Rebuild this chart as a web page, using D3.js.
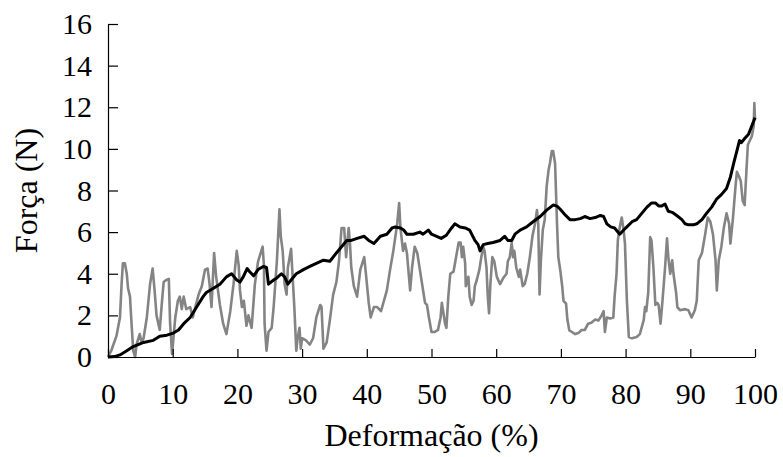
<!DOCTYPE html>
<html>
<head>
<meta charset="utf-8">
<script src="https://cdn.jsdelivr.net/npm/d3@7"></script>
<style>
  html, body { margin: 0; padding: 0; background: #fff; }
  svg { display: block; }
  text { font-family: "Liberation Serif", "Times New Roman", serif; fill: #000; }
</style>
</head>
<body>
<svg id="chart" width="783" height="457"></svg>
<script>
// Deformation (%) vs force (N): raw (grey) and averaged (black) curves
const xTicks = [0, 10, 20, 30, 40, 50, 60, 70, 80, 90, 100];
const yTicks = [0, 2, 4, 6, 8, 10, 12, 14, 16];

const grayX = [0, 0.5, 1.3, 1.85, 2.1, 2.3, 2.6, 2.9, 3.1, 3.4, 3.6, 3.9, 4.2, 4.4, 4.9, 5.2, 5.5, 6.0, 6.5, 6.9, 7.2, 7.5, 8.0, 8.3, 8.6, 9.0, 9.4, 9.6, 9.9,
  10.4, 10.8, 11.1, 11.4, 11.7, 12.1, 12.7, 13.1, 13.5, 14.0, 14.5, 15.0, 15.4, 15.7, 16.0, 16.4, 16.7, 17.3, 17.8, 18.3, 18.9, 19.4, 19.9, 20.2, 20.4, 20.7, 21.0, 21.4, 21.7, 22.2, 22.7, 23.2, 23.9, 24.1, 24.2, 24.5, 24.8, 25.3,
  25.6, 26.1, 26.5, 26.7, 27.0, 27.3, 27.6, 27.8, 28.3, 28.6, 28.8, 29.1, 29.3, 29.6, 29.8, 30.0, 30.6, 31.2, 31.7, 32.2, 32.8, 33.0, 33.3, 33.8, 34.3, 34.8, 35.3, 35.7, 36.1, 36.5, 36.8, 37.2, 37.4, 37.6, 38.0, 38.5, 39.0, 39.6, 39.8,
  40.3, 40.6, 41.1, 41.6, 42.2, 43.1, 43.6, 44.1, 44.7, 45.0, 45.2, 45.6, 45.9, 46.2, 46.7, 47.0, 47.4, 47.8, 48.2, 48.7, 49.0, 49.3, 49.6, 50.0, 50.5, 51.0, 51.4, 51.6, 51.8, 52.1, 52.3, 52.6, 52.9, 53.4, 53.8, 54.2, 54.5, 54.7, 54.9,
  55.2, 55.3, 55.7, 55.9, 56.2, 56.5, 56.7, 57.0, 57.4, 57.7, 58.0, 58.2, 58.5, 58.7, 58.9, 59.1, 59.4, 59.7, 60.1, 60.6, 61.1, 61.6, 61.8, 62.1, 62.4, 62.6, 62.8, 63.1, 63.5, 63.7, 64.1, 64.4, 64.8, 65.2, 65.6, 66.0, 66.3, 66.5,
  66.7, 66.9, 67.2, 67.5, 67.8, 68.1, 68.3, 68.6, 68.8, 69.1, 69.4, 69.6, 69.9, 70.2, 70.4, 70.8, 71.0, 71.3, 71.7, 72.2, 72.7, 73.2, 73.7, 74.2, 74.7, 75.3, 75.8, 76.3, 76.6, 76.8, 77.1, 77.6, 78.1, 78.3, 78.6, 78.8, 79.1, 79.4,
  79.7, 79.9, 80.2, 80.5, 81.0, 81.7, 82.2, 82.8, 83.0, 83.2, 83.5, 83.8, 84.0, 84.3, 84.6, 84.9, 85.1, 85.3, 85.4, 85.7, 86.1, 86.4, 86.6, 86.9, 87.2, 87.4, 87.8, 88.0, 88.4, 89.2, 89.7, 90.2, 90.7, 91.0, 91.3, 91.8, 92.3, 92.7,
  93.1, 93.5, 93.9, 94.1, 94.4, 94.8, 95.2, 95.6, 96.0, 96.2, 96.6, 97.0, 97.2, 97.5, 97.8, 98.1, 98.4, 98.7, 98.9, 99.2, 99.5, 99.8, 99.9, 100];
const grayY = [0, 0.3, 1.0, 1.9, 3.5, 4.5, 4.5, 4.0, 3.3, 2.9, 1.8, 0.3, 0.0, 0.6, 1.1, 0.7, 0.9, 1.9, 3.5, 4.25, 3.2, 2.0, 1.3, 2.5, 3.6, 3.7, 3.75, 1.6, 0.15,
  1.9, 2.7, 2.9, 2.3, 2.9, 2.3, 2.4, 1.9, 2.4, 3.0, 3.4, 4.2, 4.25, 3.5, 2.4, 5.0, 3.9, 2.5, 1.6, 1.1, 2.2, 3.5, 5.1, 4.4, 3.2, 2.4, 2.7, 1.5, 2.0, 1.4, 3.5, 4.6, 5.3, 4.4, 1.6, 0.3, 1.2, 1.4,
  2.4, 4.6, 7.1, 5.8, 5.1, 3.5, 3.0, 4.3, 5.2, 3.5, 2.4, 0.3, 0.9, 1.4, 0.4, 0.9, 0.8, 0.6, 0.9, 1.9, 2.5, 2.4, 0.4, 0.7, 1.8, 3.0, 3.6, 4.6, 6.2, 6.2, 4.8, 6.2, 5.45, 4.3, 3.4, 2.9, 4.2, 4.8, 4.2,
  2.6, 1.9, 2.4, 2.4, 2.2, 3.2, 4.2, 5.1, 6.4, 7.4, 6.2, 5.1, 5.45, 5.0, 3.2, 4.3, 5.3, 5.0, 4.2, 3.2, 2.6, 2.5, 1.9, 1.2, 1.2, 1.3, 1.9, 2.6, 2.2, 1.6, 1.4, 2.9, 4.0, 4.1, 4.8, 5.5, 5.5, 4.8, 5.3,
  4.5, 3.4, 3.85, 2.9, 2.5, 2.7, 3.4, 3.7, 4.2, 4.8, 5.3, 5.1, 4.3, 2.9, 2.1, 3.5, 4.8, 4.6, 3.85, 3.5, 3.8, 4.0, 4.6, 4.8, 5.5, 4.8, 5.1, 4.3, 3.85, 4.2, 3.4, 3.5, 4.0, 4.8, 5.8, 6.4, 7.06, 6.4,
  3.0, 4.6, 6.1, 6.6, 8.2, 9.0, 9.3, 9.9, 9.9, 9.3, 6.4, 4.8, 4.17, 3.4, 2.7, 2.56, 1.8, 1.28, 1.2, 1.1, 1.15, 1.3, 1.3, 1.6, 1.65, 1.8, 1.75, 2.0, 2.2, 1.2, 1.9, 1.85, 1.9, 2.9, 4.0, 5.6, 6.25, 6.7,
  6.1, 5.45, 2.7, 0.96, 0.9, 0.96, 1.1, 1.77, 2.4, 2.2, 3.1, 5.76, 5.6, 4.3, 2.5, 2.6, 2.5, 1.9, 1.6, 2.7, 4.3, 5.7, 4.8, 4.0, 4.65, 4.0, 3.1, 2.4, 2.25, 2.3, 2.25, 1.9, 2.25, 2.7, 4.65, 5.0, 5.9, 6.7,
  6.5, 5.9, 4.65, 3.2, 4.65, 5.3, 6.25, 6.9, 6.4, 5.45, 6.7, 8.25, 8.9, 8.7, 8.45, 7.5, 7.3, 9.1, 10.2, 10.4, 10.6, 11.1, 12.2, 11.4];

const blackX = [0, 1.0, 1.85, 2.9, 3.9, 5.5, 7.0, 8.0, 9.1, 10.1, 10.9, 11.7, 12.7, 13.7, 14.7, 15.2, 16.3, 17.3, 18.3, 19.1, 19.9, 20.4, 20.9, 21.5, 21.9, 22.5, 23.2, 24.0, 24.5, 24.8, 25.6, 26.1, 26.8, 27.3, 27.8, 28.3,
  29.1, 30.2, 31.2, 32.2, 33.3, 34.3, 35.3, 36.1, 36.9, 37.6, 38.5, 39.6, 40.3, 41.1, 42.1, 43.1, 43.9, 44.4, 45.2, 45.7, 46.2, 47.2, 48.2, 48.7, 49.5, 50.0, 50.8, 51.5, 52.3, 53.1, 53.6, 54.4, 55.2, 55.9, 56.7, 57.2, 57.5,
  58.0, 58.7, 59.5, 60.6, 61.3, 61.8, 62.4, 62.9, 63.7, 64.7, 65.7, 66.8, 67.8, 68.8, 69.4, 69.9, 70.6, 71.4, 72.2, 73.0, 73.7, 74.5, 75.3, 76.1, 76.6, 77.1, 77.7, 78.3, 79.1, 79.7, 80.2, 81.0, 81.7, 82.5, 83.3, 84.0, 84.6,
  85.1, 85.6, 86.1, 86.6, 87.2, 87.9, 88.7, 89.2, 89.7, 90.5, 91.0, 91.8, 92.5, 93.3, 94.1, 94.8, 95.6, 96.2, 96.7, 97.2, 97.6, 97.9, 98.4, 99.0, 99.5, 100];
const blackY = [0, 0.02, 0.1, 0.3, 0.5, 0.7, 0.8, 1.0, 1.05, 1.15, 1.3, 1.6, 1.9, 2.4, 2.9, 3.1, 3.3, 3.5, 3.85, 4.0, 3.7, 3.6, 3.85, 4.25, 4.1, 3.9, 4.2, 4.35, 4.3, 3.5, 3.7, 3.8, 4.0, 3.85, 3.5, 3.7,
  4.0, 4.2, 4.35, 4.5, 4.65, 4.6, 5.0, 5.3, 5.6, 5.6, 5.7, 5.8, 5.6, 5.45, 5.8, 5.9, 6.2, 6.25, 6.2, 6.1, 5.9, 5.9, 6.0, 5.9, 6.1, 5.9, 5.8, 5.7, 5.85, 6.2, 6.4, 6.25, 6.2, 6.1, 5.6, 5.4, 5.1,
  5.4, 5.45, 5.5, 5.6, 5.8, 5.6, 5.6, 5.9, 6.1, 6.25, 6.5, 6.75, 7.06, 7.3, 7.25, 7.1, 6.85, 6.6, 6.6, 6.65, 6.75, 6.65, 6.7, 6.8, 6.75, 6.4, 6.25, 6.2, 5.9, 6.1, 6.25, 6.5, 6.6, 6.9, 7.2, 7.4, 7.4,
  7.26, 7.26, 7.35, 7.0, 6.95, 6.8, 6.6, 6.4, 6.35, 6.35, 6.4, 6.6, 6.9, 7.2, 7.6, 7.8, 8.1, 8.65, 9.3, 9.9, 10.4, 10.3, 10.5, 10.7, 11.1, 11.5];

const svg = d3.select("#chart");
const margin = { left: 108, right: 28, top: 24, bottom: 100 };
const W = 783, H = 457;
const serif = '"Liberation Serif", "Times New Roman", serif';

const x = d3.scaleLinear().domain([0, 100]).range([margin.left, W - margin.right]);
const y = d3.scaleLinear().domain([0, 16]).range([H - margin.bottom, margin.top]);

const line = d3.line().x(d => x(d[0])).y(d => y(d[1]));

const grayData = d3.zip(grayX, grayY);
const blackData = d3.zip(blackX, blackY);

svg.append("path")
  .datum(grayData)
  .attr("d", line)
  .attr("fill", "none")
  .attr("stroke", "#848484")
  .attr("stroke-width", 2.6)
  .attr("stroke-linejoin", "round");

svg.append("path")
  .datum(blackData)
  .attr("d", line)
  .attr("fill", "none")
  .attr("stroke", "#000")
  .attr("stroke-width", 3)
  .attr("stroke-linejoin", "round");

// Axes with inward ticks
const xAxis = svg.append("g")
  .attr("transform", `translate(0,${y(0)})`)
  .call(d3.axisBottom(x).tickValues(xTicks).tickSizeInner(-8).tickSizeOuter(0).tickPadding(26));
const yAxis = svg.append("g")
  .attr("transform", `translate(${x(0)},0)`)
  .call(d3.axisLeft(y).tickValues(yTicks).tickSizeInner(-10).tickSizeOuter(0).tickPadding(16));

[xAxis, yAxis].forEach(g => {
  g.attr("font-family", serif).attr("font-size", 30);
  g.select(".domain").attr("stroke", "#000").attr("stroke-width", 1.2);
  g.selectAll(".tick line").attr("stroke", "#000").attr("stroke-width", 1.2);
  g.selectAll(".tick text")
    .style("font-family", serif)
    .style("font-size", "30px")
    .attr("fill", "#000");
});

svg.append("text")
  .attr("x", (x(0) + x(100)) / 2)
  .attr("y", 446)
  .attr("text-anchor", "middle")
  .style("font-family", serif)
  .style("font-size", "32px")
  .text("Deformação (%)");

svg.append("text")
  .attr("transform", `translate(37,${(y(0) + y(16)) / 2}) rotate(-90)`)
  .attr("text-anchor", "middle")
  .style("font-family", serif)
  .style("font-size", "32px")
  .text("Força (N)");
</script>
</body>
</html>
